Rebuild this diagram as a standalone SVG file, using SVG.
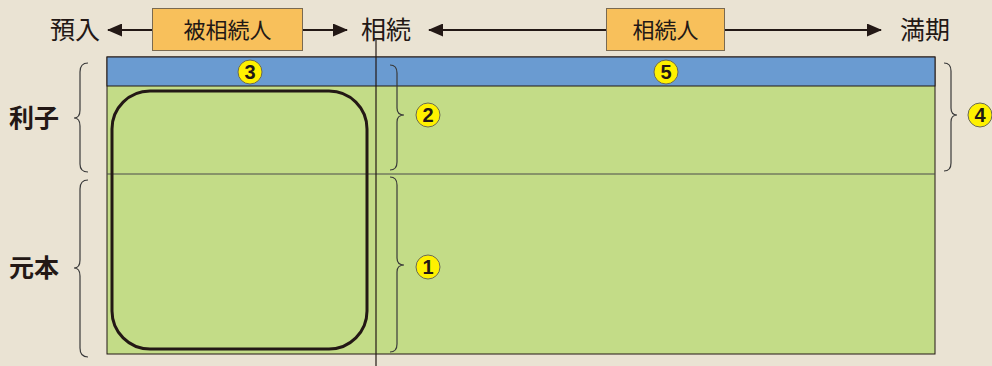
<svg xmlns="http://www.w3.org/2000/svg" width="992" height="366" viewBox="0 0 992 366">
<defs>
<style>
.lbl{font-family:"Noto Sans CJK JP","Noto Sans CJK SC",sans-serif;font-size:25px;fill:#231815}
.side{font-weight:bold;font-size:25px}
.box{fill:#F8C05B;stroke:#7a6a50;stroke-width:1}
.bt{font-size:22px}
.brace{fill:none;stroke:#3a3a3a;stroke-width:1.2}
.num{fill:#FFF100;stroke:#6a6a55;stroke-width:1}
.numt{font-family:"Liberation Sans",Arial,sans-serif;font-size:20px;font-weight:bold;fill:#231815;text-anchor:middle}
.ln{stroke:#231815;stroke-width:1.8;fill:none}
</style>
<marker id="ah" markerWidth="15" markerHeight="13" refX="14" refY="6.5" orient="auto" markerUnits="userSpaceOnUse" viewBox="0 0 15 13"><path d="M0,0 L15,6.5 L0,13 z" fill="#231815"/></marker>
</defs>
<rect width="992" height="366" fill="#EAE3D3"/>
<g id="main">
<rect x="107" y="57" width="828" height="297" fill="#C3DC87" stroke="#231815" stroke-width="1"/>
<rect x="107" y="57" width="828" height="29" fill="#6A9BD1" stroke="#231815" stroke-width="1"/>
<line x1="107" y1="174" x2="935" y2="174" stroke="#4a4a4a" stroke-width="1"/>
<rect x="112" y="91" width="255" height="258" rx="38" ry="38" fill="none" stroke="#231815" stroke-width="3"/>
</g>
<g id="connectors">
<line x1="376" y1="40" x2="376" y2="366" stroke="#231815" stroke-width="1.2"/>
<line class="ln" x1="152" y1="30" x2="108" y2="30" marker-end="url(#ah)"/>
<line class="ln" x1="303" y1="30" x2="347" y2="30" marker-end="url(#ah)"/>
<line class="ln" x1="606" y1="30" x2="429" y2="30" marker-end="url(#ah)"/>
<line class="ln" x1="725" y1="30" x2="881" y2="30" marker-end="url(#ah)"/>
</g>
<g id="label-yonyu"><text class="lbl" x="50" y="39">預入</text></g>
<g id="label-souzoku"><text class="lbl" x="361" y="39">相続</text></g>
<g id="label-manki"><text class="lbl" x="900" y="39">満期</text></g>
<g id="box-hisouzokunin"><rect class="box" x="152.5" y="8.5" width="150" height="42"/><text class="lbl bt" x="227.5" y="38" text-anchor="middle">被相続人</text></g>
<g id="box-souzokunin"><rect class="box" x="606.5" y="8.5" width="118" height="42"/><text class="lbl bt" x="665.5" y="38" text-anchor="middle">相続人</text></g>
<g id="label-rishi"><text class="lbl side" x="9" y="127">利子</text></g>
<g id="label-ganpon"><text class="lbl side" x="9" y="277">元本</text></g>
<g id="braces">
<path class="brace" d="M88,63 Q80,63 80,72 L80,110 Q80,118 74,118 Q80,118 80,126 L80,164 Q80,172 88,172"/>
<path class="brace" d="M88,180 Q80,180 80,189 L80,260 Q80,268 74,268 Q80,268 80,276 L80,348 Q80,357 88,357"/>
<path class="brace" d="M390,65 Q397,65 397,73 L397,108 Q397,115 404,115 Q397,115 397,122 L397,162 Q397,170 390,170"/>
<path class="brace" d="M390,177 Q397,177 397,185 L397,258 Q397,265 404,265 Q397,265 397,272 L397,344 Q397,352 390,352"/>
<path class="brace" d="M944,63 Q951,63 951,71 L951,108 Q951,115 957,115 Q951,115 951,122 L951,163 Q951,171 944,171"/>
</g>
<g id="num3"><circle class="num" cx="250" cy="72" r="12"/><text class="numt" x="250" y="79">3</text></g>
<g id="num5"><circle class="num" cx="666" cy="72" r="12"/><text class="numt" x="666" y="79">5</text></g>
<g id="num2"><circle class="num" cx="428" cy="115" r="12"/><text class="numt" x="428" y="122">2</text></g>
<g id="num1"><circle class="num" cx="428" cy="267" r="12"/><text class="numt" x="428" y="274">1</text></g>
<g id="num4"><circle class="num" cx="980" cy="115" r="12"/><text class="numt" x="980" y="122">4</text></g>
</svg>
